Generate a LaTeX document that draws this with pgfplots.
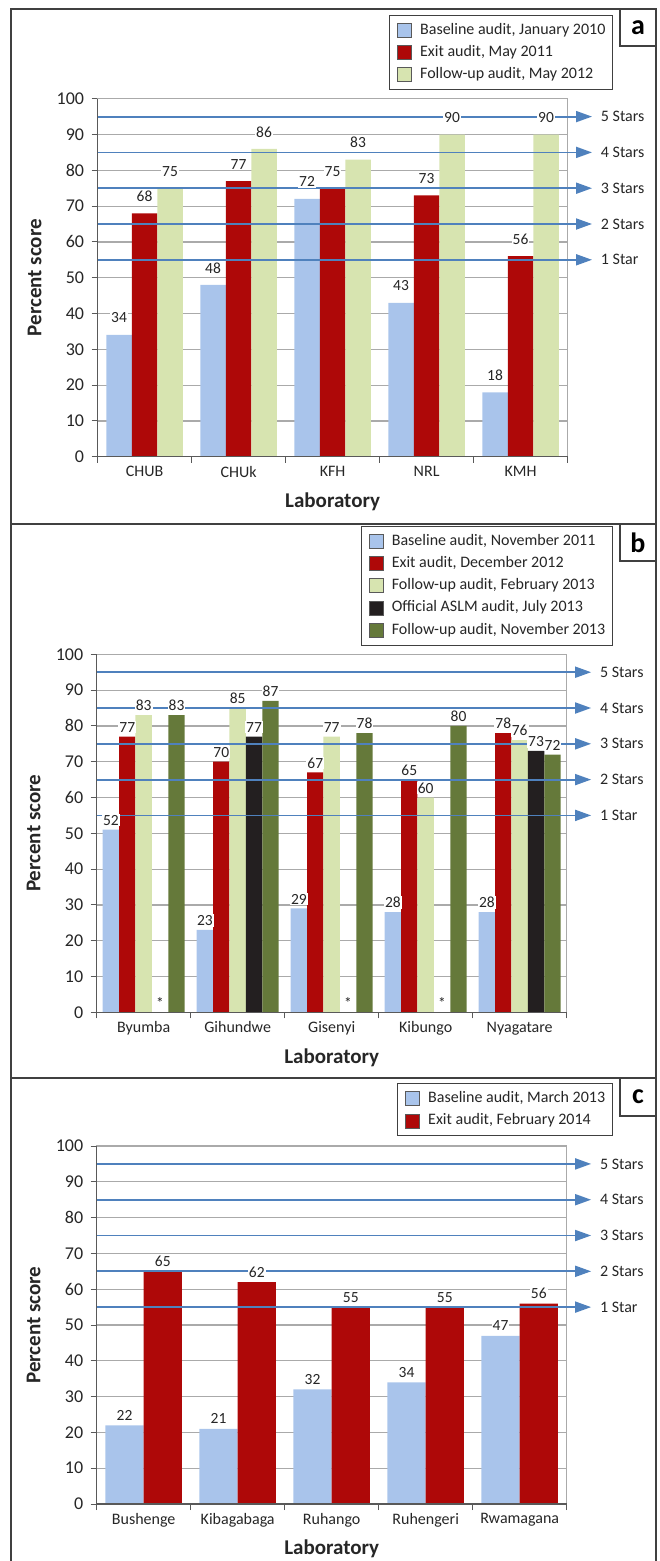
\documentclass[border=0pt]{standalone}
\usepackage{fontspec}
\setmainfont{Carlito}
\usepackage{pgfplots}
\usepackage{pgfplotstable}
\pgfplotsset{compat=1.18}
\usetikzlibrary{arrows.meta}

\definecolor{cBase}{RGB}{169,196,235}
\definecolor{cExit}{RGB}{174,8,8}
\definecolor{cFol}{RGB}{215,228,176}
\definecolor{cAslm}{RGB}{35,31,32}
\definecolor{cFolB}{RGB}{101,121,58}
\definecolor{cStar}{RGB}{79,129,189}
\definecolor{cGrid}{RGB}{170,170,170}
\definecolor{cAxis}{RGB}{89,89,89}
\definecolor{cFrame}{RGB}{64,64,64}
\definecolor{cText}{RGB}{38,38,38}

\pgfplotstableread{
x base exit fol
0 34 68 75
1 48 77 86
2 72 75 83
3 43 73 90
4 18 56 90
}\dataA

\pgfplotstableread{
x base baselab exit fol aslm aslmlab folb
0 51 52 77 83 0  * 83
1 23 23 70 85 77 77 87
2 29 29 67 77 0  * 78
3 28 28 65 60 0  * 80
4 28 28 78 76 73 73 72
}\dataB

\pgfplotstableread{
x base exit
0 22 65
1 21 62
2 32 55
3 34 55
4 47 56
}\dataC

\pgfplotsset{
  panel/.style={
    scale only axis, width=470pt, height=358pt,
    xmin=-0.5, xmax=4.5, ymin=0, ymax=100,
    clip=false,
    ytick={0,10,...,100}, xtick={0,1,2,3,4},
    minor xtick={-0.5,0.5,1.5,2.5,3.5,4.5},
    xtick pos=bottom, ytick pos=left,
    tick align=outside,
    major tick length=6pt, minor tick length=6pt,
    every major x tick/.append style={draw=none},
    every minor x tick/.append style={cAxis, line width=1pt},
    every major y tick/.append style={cAxis, line width=1pt},
    ymajorgrids,
    major grid style={cGrid, line width=1.2pt},
    axis line style={cGrid, line width=1.2pt},
    /pgf/number format/assume math mode=true,
    yticklabel style={font=\fontsize{18}{18}\selectfont, text=cText, xshift=-4pt},
    xticklabel style={font=\fontsize{16}{16}\selectfont, text=cText},
    xlabel={Laboratory}, ylabel={Percent score},
    every axis x label/.style={at={(rel axis cs:0.5,0)}, yshift=-45pt, anchor=center,
      font=\bfseries\fontsize{21}{21}\selectfont, text=cText},
    every axis y label/.style={at={(rel axis cs:0,0.5)}, xshift=-63pt, anchor=center, rotate=90,
      font=\bfseries\fontsize{21}{21}\selectfont, text=cText},
    legend image code/.code={\draw[#1, draw=cAxis, line width=0.8pt] (0pt,-7pt) rectangle (14pt,7pt);},
    legend cell align=left,
    legend style={draw=cFrame, line width=1pt, font=\fontsize{16}{16}\selectfont, text=cText,
      inner xsep=7.5pt, inner ysep=7.5pt, row sep=7.5pt, column sep=8pt,
      nodes={inner sep=0pt, text height=11pt, text depth=3pt}, anchor=south east},
    after end axis/.code={\draw[cAxis, line width=1.2pt] (rel axis cs:0,1) -- (rel axis cs:0,0) -- (rel axis cs:1,0);},
  },
  lab/.style 2 args={forget plot, draw=none, fill=none, nodes near coords, point meta=explicit symbolic,
    every node near coord/.append style={anchor=center, xshift=#2, yshift=#1, fill=white, inner sep=1pt,
      font=\fontsize{15.5}{15.5}\selectfont, text=cText}},
}

\newcommand\starline[2]{%
  \addplot[forget plot, sharp plot, cStar, line width=1.8pt, -{Triangle[length=16pt,width=11pt]}]
    coordinates {(-0.5,#1) (4.76,#1)}
    node[pos=1, anchor=west, xshift=8pt, inner sep=0pt, text=cText, font=\fontsize{16}{16}\selectfont] {#2};}
\newcommand\allstars{%
  \starline{95}{5 Stars}\starline{85}{4 Stars}\starline{75}{3 Stars}\starline{65}{2 Stars}\starline{55}{1 Star}}

\begin{document}
\begin{tikzpicture}
\useasboundingbox (0pt,0pt) rectangle (660pt,-1561pt);

% ---------------- panel a
\begin{axis}[panel, at={(97.6pt,-456.7pt)}, anchor=south west,
  xticklabels={CHUB,CHUk,KFH,NRL,KMH},
  legend style={at={(1.0974,1.0243)}}]
\addplot[ybar, bar width=25.5pt, bar shift=-25.5pt, fill=cBase, draw=none] table[x=x,y=base]{\dataA};
\addplot[ybar, bar width=25.5pt, bar shift=0pt, fill=cExit, draw=none] table[x=x,y=exit]{\dataA};
\addplot[ybar, bar width=25.5pt, bar shift=25.5pt, fill=cFol, draw=none] table[x=x,y=fol]{\dataA};
\allstars
\addplot[ybar, bar width=25.5pt, bar shift=-25.5pt, lab={17pt}{-25.5pt}] table[x=x,y=base,meta=base]{\dataA};
\addplot[ybar, bar width=25.5pt, bar shift=0pt, lab={17pt}{0pt}] table[x=x,y=exit,meta=exit]{\dataA};
\addplot[ybar, bar width=25.5pt, bar shift=25.5pt, lab={17pt}{25.5pt}] table[x=x,y=fol,meta=fol]{\dataA};
\legend{Baseline audit{,} January 2010, Exit audit{,} May 2011, Follow-up audit{,} May 2012}
\end{axis}

% ---------------- panel b
\begin{axis}[panel, at={(96.7pt,-1012.3pt)}, anchor=south west,
  xticklabels={Byumba,Gihundwe,Gisenyi,Kibungo,Nyagatare},
  legend style={at={(1.0989,1.0243)}}]
\addplot[ybar, bar width=16.4pt, bar shift=-32.8pt, fill=cBase, draw=none] table[x=x,y=base]{\dataB};
\addplot[ybar, bar width=16.4pt, bar shift=-16.4pt, fill=cExit, draw=none] table[x=x,y=exit]{\dataB};
\addplot[ybar, bar width=16.4pt, bar shift=0pt, fill=cFol, draw=none] table[x=x,y=fol]{\dataB};
\addplot[ybar, bar width=16.4pt, bar shift=16.4pt, fill=cAslm, draw=none] table[x=x,y=aslm]{\dataB};
\addplot[ybar, bar width=16.4pt, bar shift=32.8pt, fill=cFolB, draw=none] table[x=x,y=folb]{\dataB};
\allstars
\addplot[ybar, bar width=16.4pt, bar shift=-32.8pt, lab={9.5pt}{-32.8pt}] table[x=x,y=base,meta=baselab]{\dataB};
\addplot[ybar, bar width=16.4pt, bar shift=-16.4pt, lab={9.5pt}{-16.4pt}] table[x=x,y=exit,meta=exit]{\dataB};
\addplot[ybar, bar width=16.4pt, bar shift=0pt, lab={9.5pt}{0pt}] table[x=x,y=fol,meta=fol]{\dataB};
\addplot[ybar, bar width=16.4pt, bar shift=16.4pt, lab={9.5pt}{16.4pt}] table[x=x,y=aslm,meta=aslmlab]{\dataB};
\addplot[ybar, bar width=16.4pt, bar shift=32.8pt, lab={9.5pt}{32.8pt}] table[x=x,y=folb,meta=folb]{\dataB};
\legend{Baseline audit{,} November 2011, Exit audit{,} December 2012, Follow-up audit{,} February 2013,
  Official ASLM audit{,} July 2013, Follow-up audit{,} November 2013}
\end{axis}

% ---------------- panel c
\begin{axis}[panel, at={(96.7pt,-1504pt)}, anchor=south west,
  xticklabels={Bushenge,Kibagabaga,Ruhango,Ruhengeri,Rwamagana},
  legend style={at={(1.0989,1.0271)}}]
\addplot[ybar, bar width=38.2pt, bar shift=-19.1pt, fill=cBase, draw=none] table[x=x,y=base]{\dataC};
\addplot[ybar, bar width=38.2pt, bar shift=19.1pt, fill=cExit, draw=none] table[x=x,y=exit]{\dataC};
\allstars
\addplot[ybar, bar width=38.2pt, bar shift=-19.1pt, lab={10pt}{-19.1pt}] table[x=x,y=base,meta=base]{\dataC};
\addplot[ybar, bar width=38.2pt, bar shift=19.1pt, lab={10pt}{19.1pt}] table[x=x,y=exit,meta=exit]{\dataC};
\legend{Baseline audit{,} March 2013, Exit audit{,} February 2014}
\end{axis}

% ---------------- frames
\draw[cFrame, line width=1.5pt] (11pt,-1561pt) -- (11pt,-9pt) -- (656pt,-9pt) -- (656pt,-1561pt);
\draw[cFrame, line width=1.5pt] (11pt,-524pt) -- (656pt,-524pt);
\draw[cFrame, line width=1.5pt] (11pt,-1078pt) -- (656pt,-1078pt);
\draw[cFrame, line width=1.2pt] (620pt,-9pt) |- (656pt,-46pt);
\draw[cFrame, line width=1.2pt] (620pt,-524pt) |- (656pt,-561pt);
\draw[cFrame, line width=1.2pt] (620pt,-1078pt) |- (656pt,-1116pt);
\node[font=\bfseries\fontsize{28}{28}\selectfont, text=black] at (638pt,-27.5pt) {a};
\node[font=\bfseries\fontsize{28}{28}\selectfont, text=black] at (638pt,-542.5pt) {b};
\node[font=\bfseries\fontsize{28}{28}\selectfont, text=black] at (638pt,-1097pt) {c};
\end{tikzpicture}
\end{document}
